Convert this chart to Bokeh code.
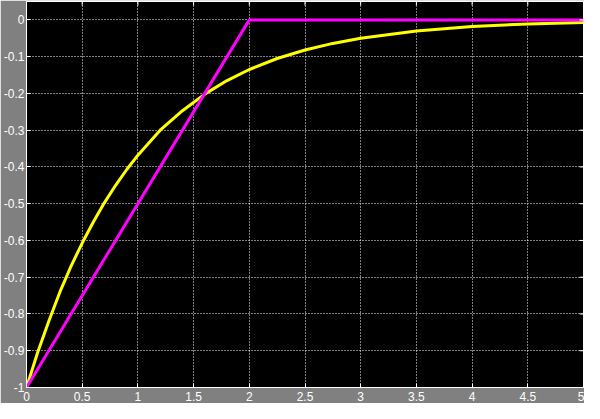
import math
from bokeh.plotting import figure
from bokeh.models import Range1d, FixedTicker
from bokeh.embed import file_html
from bokeh.resources import INLINE

# Data
t_exp = [0, 0.1, 0.2, 0.3, 0.4, 0.5, 0.6, 0.7, 0.8, 0.9, 1.0, 1.2, 1.4, 1.6, 1.8,
         2.0, 2.25, 2.5, 2.75, 3.0, 3.5, 4.0, 4.5, 5.0]
y_exp = [-1, -0.905, -0.82, -0.74, -0.67, -0.607, -0.55, -0.497, -0.45, -0.407,
         -0.368, -0.30, -0.247, -0.202, -0.165, -0.135, -0.105, -0.082, -0.064,
         -0.05, -0.03, -0.018, -0.011, -0.007]
t_ramp = [0, 2, 5]
y_ramp = [-1, 0, 0]

x_ticks = [0, 0.5, 1, 1.5, 2, 2.5, 3, 3.5, 4, 4.5, 5]
x_labels = ["0", "0.5", "1", "1.5", "2", "2.5", "3", "3.5", "4", "4.5", "5"]
y_ticks = [0, -0.1, -0.2, -0.3, -0.4, -0.5, -0.6, -0.7, -0.8, -0.9, -1]
y_labels = ["0", "-0.1", "-0.2", "-0.3", "-0.4", "-0.5", "-0.6", "-0.7", "-0.8", "-0.9", "-1"]

GRAY = "#808080"
FONT = "Liberation Sans"

xr = Range1d(0, 5)
yr = Range1d(-1, 0.05)
p = figure(width=584, height=403, output_backend="svg", toolbar_location=None,
           x_range=xr, y_range=yr,
           background_fill_color="black", border_fill_color=GRAY,
           min_border_left=19, min_border_right=1, min_border_top=1,
           min_border_bottom=16, outline_line_color="white", outline_line_width=1)

for ax, ticks, labels in ((p.xaxis[0], x_ticks, x_labels), (p.yaxis[0], y_ticks, y_labels)):
    ax.ticker = FixedTicker(ticks=ticks, minor_ticks=[])
    ax.major_label_overrides = {tk: lb for tk, lb in zip(ticks, labels)}
    ax.major_tick_in = 4
    ax.major_tick_out = 0
    ax.minor_tick_line_color = None
    ax.axis_line_color = "white"
    ax.major_tick_line_color = "white"
    ax.major_label_text_color = "white"
    ax.major_label_text_font = FONT
    ax.major_label_text_font_size = "12px"
    ax.major_label_standoff = 2
    ax.axis_label_standoff = 0
p.xaxis[0].major_label_standoff = 4

for g in (p.xgrid[0], p.ygrid[0]):
    g.grid_line_color = "white"
    g.grid_line_dash = "1 2"
    g.grid_line_width = 1
p.xgrid[0].ticker = FixedTicker(ticks=x_ticks)
p.ygrid[0].ticker = FixedTicker(ticks=y_ticks)

p.line(t_exp, y_exp, line_color="#ffff00", line_width=3)
p.line(t_ramp, y_ramp, line_color="#ff00ff", line_width=3)

# inward ticks on the top and right edges (half of each dash is clipped by the frame)
p.scatter(x_ticks, [yr.end] * len(x_ticks), marker="dash", size=8, angle=math.pi / 2,
          line_color="white", line_width=1)
p.scatter([xr.end] * len(y_ticks), y_ticks, marker="dash", size=8,
          line_color="white", line_width=1)

open("out.html", "w").write(file_html(p, INLINE))
